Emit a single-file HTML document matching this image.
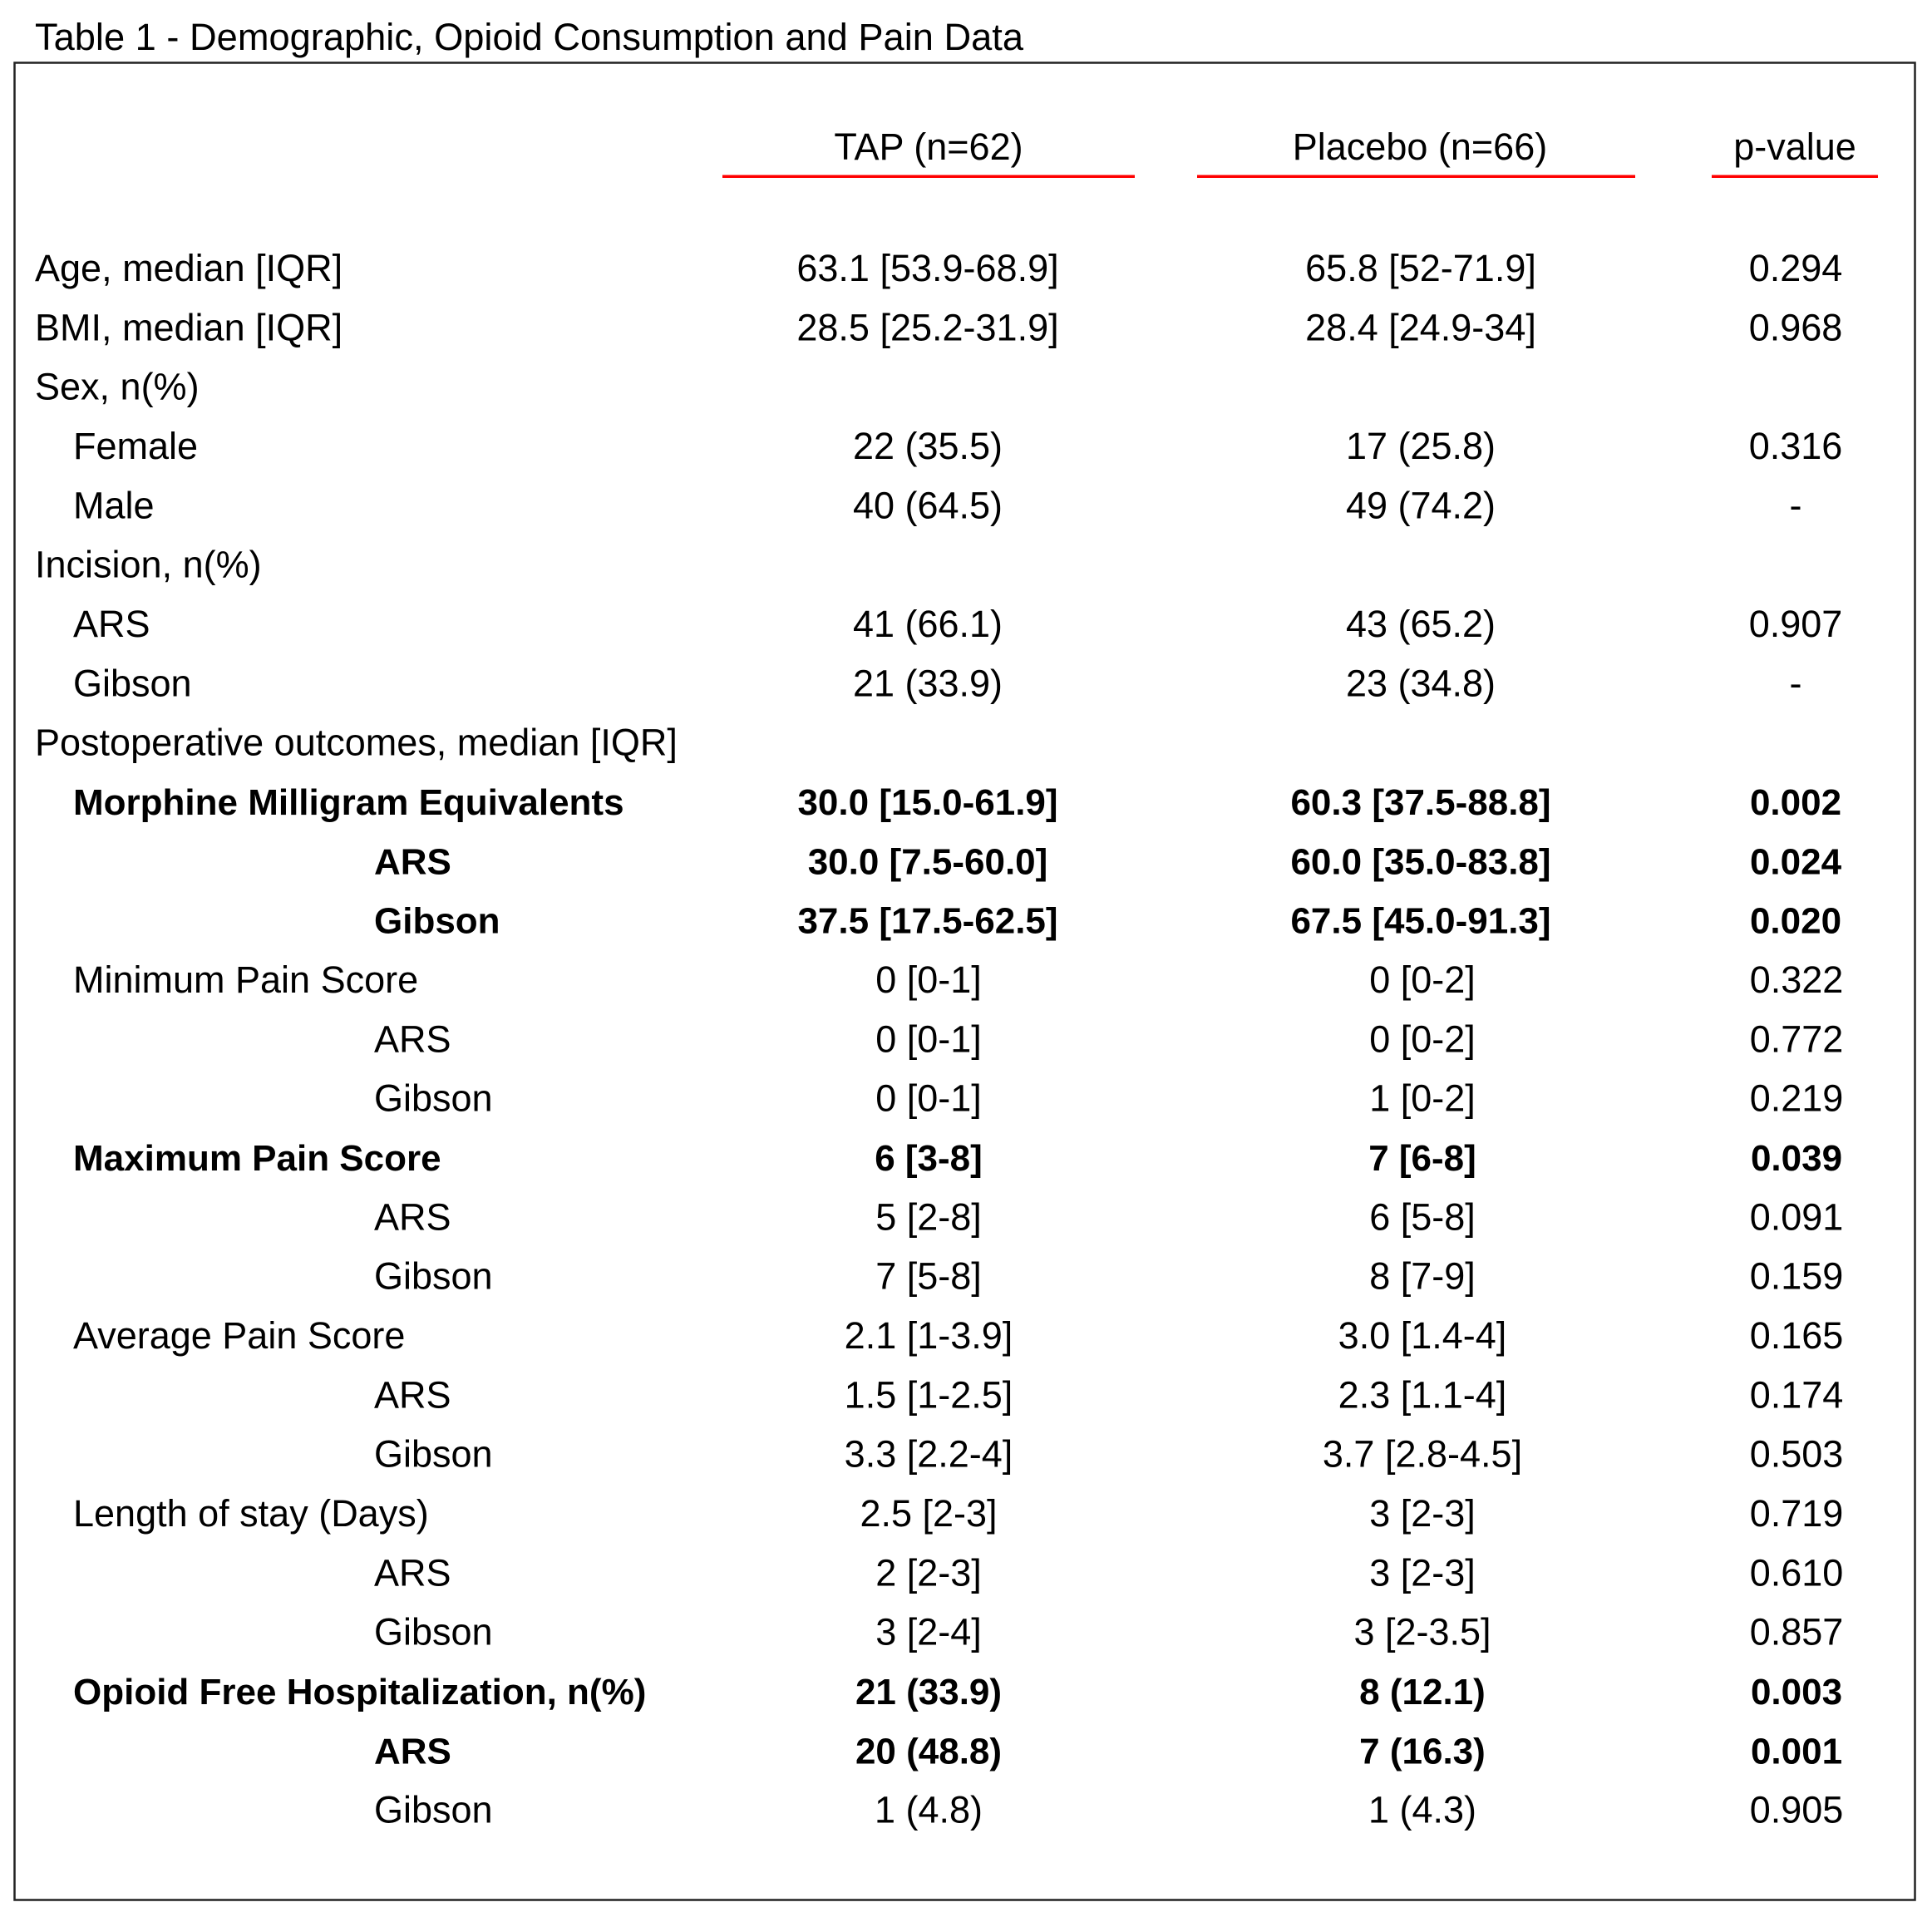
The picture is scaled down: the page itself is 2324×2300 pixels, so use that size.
<!DOCTYPE html>
<html>
<head>
<meta charset="utf-8">
<style>
html,body{margin:0;padding:0;background:#fff;}
svg{display:block;}
text{font-family:"Liberation Sans",Arial,sans-serif;font-size:45px;fill:#000;}
.b{font-weight:bold;font-size:44px;}
.c{text-anchor:middle;}
</style>
</head>
<body>
<svg width="2324" height="2300" viewBox="0 0 2324 2300" xmlns="http://www.w3.org/2000/svg">
<rect x="0" y="0" width="2324" height="2300" fill="#fff"/>
<text x="42" y="60" textLength="1189" lengthAdjust="spacingAndGlyphs">Table 1 - Demographic, Opioid Consumption and Pain Data</text>
<rect x="17.5" y="75.5" width="2286" height="2210" fill="none" stroke="#222" stroke-width="2.5"/>

<text class="c" x="1117" y="192">TAP (n=62)</text>
<text class="c" x="1708" y="192">Placebo (n=66)</text>
<text class="c" x="2159" y="192">p-value</text>
<rect x="869" y="210.5" width="496" height="3.5" fill="#ff0000"/>
<rect x="1440" y="210.5" width="527" height="3.5" fill="#ff0000"/>
<rect x="2059" y="210.5" width="200" height="3.5" fill="#ff0000"/>

<!-- row 0 -->
<text x="42" y="338">Age, median [IQR]</text>
<text class="c" x="1116" y="338">63.1 [53.9-68.9]</text>
<text class="c" x="1709" y="338">65.8 [52-71.9]</text>
<text class="c" x="2160" y="338">0.294</text>
<!-- row 1 -->
<text x="42" y="409.3">BMI, median [IQR]</text>
<text class="c" x="1116" y="409.3">28.5 [25.2-31.9]</text>
<text class="c" x="1709" y="409.3">28.4 [24.9-34]</text>
<text class="c" x="2160" y="409.3">0.968</text>
<!-- row 2 -->
<text x="42" y="480.7">Sex, n(%)</text>
<!-- row 3 -->
<text x="88" y="552">Female</text>
<text class="c" x="1116" y="552">22 (35.5)</text>
<text class="c" x="1709" y="552">17 (25.8)</text>
<text class="c" x="2160" y="552">0.316</text>
<!-- row 4 -->
<text x="88" y="623.3">Male</text>
<text class="c" x="1116" y="623.3">40 (64.5)</text>
<text class="c" x="1709" y="623.3">49 (74.2)</text>
<text class="c" x="2160" y="623.3">-</text>
<!-- row 5 -->
<text x="42" y="694.7">Incision, n(%)</text>
<!-- row 6 -->
<text x="88" y="766">ARS</text>
<text class="c" x="1116" y="766">41 (66.1)</text>
<text class="c" x="1709" y="766">43 (65.2)</text>
<text class="c" x="2160" y="766">0.907</text>
<!-- row 7 -->
<text x="88" y="837.3">Gibson</text>
<text class="c" x="1116" y="837.3">21 (33.9)</text>
<text class="c" x="1709" y="837.3">23 (34.8)</text>
<text class="c" x="2160" y="837.3">-</text>
<!-- row 8 -->
<text x="42" y="908.7">Postoperative outcomes, median [IQR]</text>
<!-- row 9 -->
<text class="b" x="88" y="980">Morphine Milligram Equivalents</text>
<text class="b c" x="1116" y="980">30.0 [15.0-61.9]</text>
<text class="b c" x="1709" y="980">60.3 [37.5-88.8]</text>
<text class="b c" x="2160" y="980">0.002</text>
<!-- row 10 -->
<text class="b" x="450" y="1051.3">ARS</text>
<text class="b c" x="1116" y="1051.3">30.0 [7.5-60.0]</text>
<text class="b c" x="1709" y="1051.3">60.0 [35.0-83.8]</text>
<text class="b c" x="2160" y="1051.3">0.024</text>
<!-- row 11 -->
<text class="b" x="450" y="1122.7">Gibson</text>
<text class="b c" x="1116" y="1122.7">37.5 [17.5-62.5]</text>
<text class="b c" x="1709" y="1122.7">67.5 [45.0-91.3]</text>
<text class="b c" x="2160" y="1122.7">0.020</text>
<!-- row 12 -->
<text x="88" y="1194">Minimum Pain Score</text>
<text class="c" x="1117" y="1194">0 [0-1]</text>
<text class="c" x="1711" y="1194">0 [0-2]</text>
<text class="c" x="2161" y="1194">0.322</text>
<!-- row 13 -->
<text x="450" y="1265.3">ARS</text>
<text class="c" x="1117" y="1265.3">0 [0-1]</text>
<text class="c" x="1711" y="1265.3">0 [0-2]</text>
<text class="c" x="2161" y="1265.3">0.772</text>
<!-- row 14 -->
<text x="450" y="1336.7">Gibson</text>
<text class="c" x="1117" y="1336.7">0 [0-1]</text>
<text class="c" x="1711" y="1336.7">1 [0-2]</text>
<text class="c" x="2161" y="1336.7">0.219</text>
<!-- row 15 -->
<text class="b" x="88" y="1408">Maximum Pain Score</text>
<text class="b c" x="1117" y="1408">6 [3-8]</text>
<text class="b c" x="1711" y="1408">7 [6-8]</text>
<text class="b c" x="2161" y="1408">0.039</text>
<!-- row 16 -->
<text x="450" y="1479.3">ARS</text>
<text class="c" x="1117" y="1479.3">5 [2-8]</text>
<text class="c" x="1711" y="1479.3">6 [5-8]</text>
<text class="c" x="2161" y="1479.3">0.091</text>
<!-- row 17 -->
<text x="450" y="1550.7">Gibson</text>
<text class="c" x="1117" y="1550.7">7 [5-8]</text>
<text class="c" x="1711" y="1550.7">8 [7-9]</text>
<text class="c" x="2161" y="1550.7">0.159</text>
<!-- row 18 -->
<text x="88" y="1622">Average Pain Score</text>
<text class="c" x="1117" y="1622">2.1 [1-3.9]</text>
<text class="c" x="1711" y="1622">3.0 [1.4-4]</text>
<text class="c" x="2161" y="1622">0.165</text>
<!-- row 19 -->
<text x="450" y="1693.3">ARS</text>
<text class="c" x="1117" y="1693.3">1.5 [1-2.5]</text>
<text class="c" x="1711" y="1693.3">2.3 [1.1-4]</text>
<text class="c" x="2161" y="1693.3">0.174</text>
<!-- row 20 -->
<text x="450" y="1764.7">Gibson</text>
<text class="c" x="1117" y="1764.7">3.3 [2.2-4]</text>
<text class="c" x="1711" y="1764.7">3.7 [2.8-4.5]</text>
<text class="c" x="2161" y="1764.7">0.503</text>
<!-- row 21 -->
<text x="88" y="1836">Length of stay (Days)</text>
<text class="c" x="1117" y="1836">2.5 [2-3]</text>
<text class="c" x="1711" y="1836">3 [2-3]</text>
<text class="c" x="2161" y="1836">0.719</text>
<!-- row 22 -->
<text x="450" y="1907.3">ARS</text>
<text class="c" x="1117" y="1907.3">2 [2-3]</text>
<text class="c" x="1711" y="1907.3">3 [2-3]</text>
<text class="c" x="2161" y="1907.3">0.610</text>
<!-- row 23 -->
<text x="450" y="1978.7">Gibson</text>
<text class="c" x="1117" y="1978.7">3 [2-4]</text>
<text class="c" x="1711" y="1978.7">3 [2-3.5]</text>
<text class="c" x="2161" y="1978.7">0.857</text>
<!-- row 24 -->
<text class="b" x="88" y="2050">Opioid Free Hospitalization, n(%)</text>
<text class="b c" x="1117" y="2050">21 (33.9)</text>
<text class="b c" x="1711" y="2050">8 (12.1)</text>
<text class="b c" x="2161" y="2050">0.003</text>
<!-- row 25 -->
<text class="b" x="450" y="2121.3">ARS</text>
<text class="b c" x="1117" y="2121.3">20 (48.8)</text>
<text class="b c" x="1711" y="2121.3">7 (16.3)</text>
<text class="b c" x="2161" y="2121.3">0.001</text>
<!-- row 26 -->
<text x="450" y="2192.7">Gibson</text>
<text class="c" x="1117" y="2192.7">1 (4.8)</text>
<text class="c" x="1711" y="2192.7">1 (4.3)</text>
<text class="c" x="2161" y="2192.7">0.905</text>
</svg>
</body>
</html>
